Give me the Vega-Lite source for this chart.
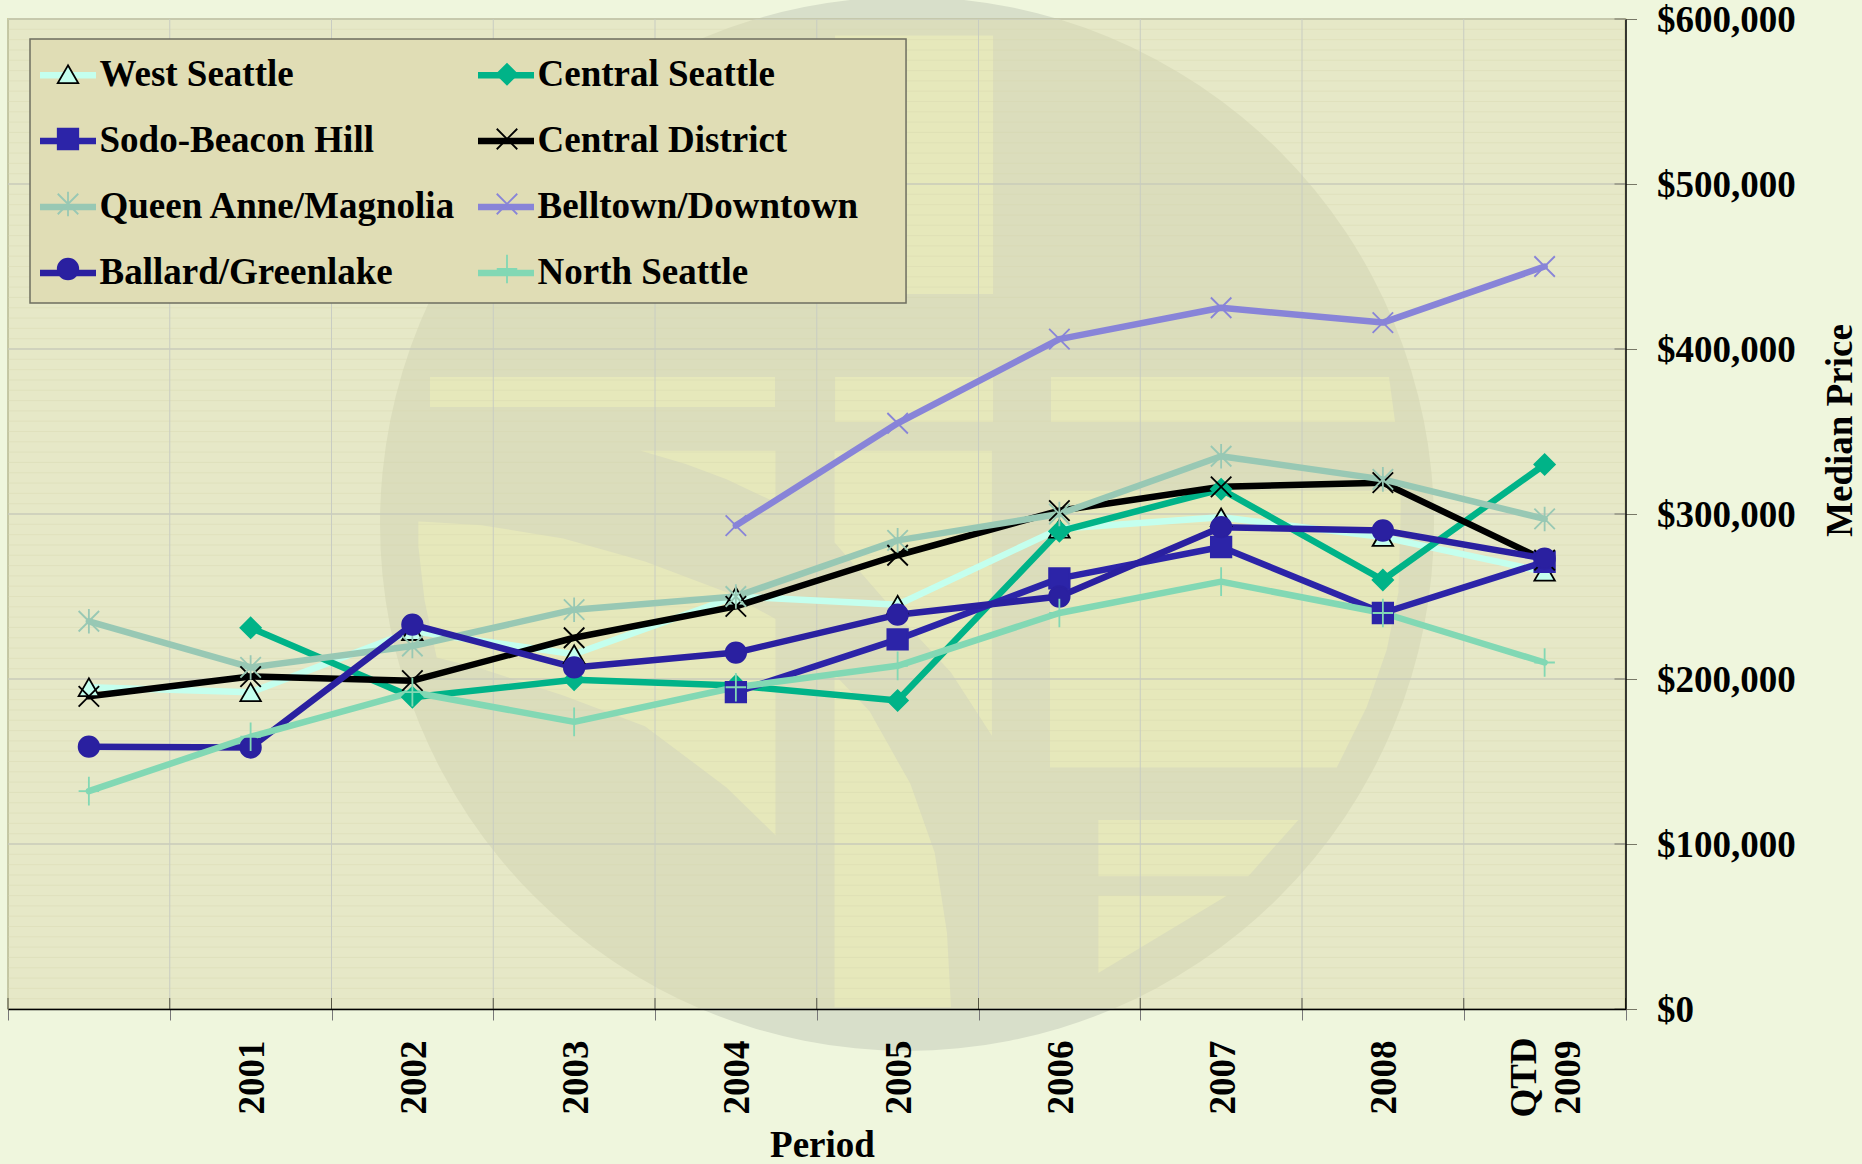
{
"$schema":"https://vega.github.io/schema/vega-lite/v6.json",
"width":1617.5,"height":990,
"autosize":{"type":"none"},
"padding":{"left":8,"top":19,"right":236.5,"bottom":155},
"background":"#EFF6DD",
"view":{"stroke":null},
"config":{"font":"Liberation Serif"},
"datasets":{
"prices":[
{"period":"2000","area":"West Seattle","price":195000},{"period":"2001","area":"West Seattle","price":192000},{"period":"2002","area":"West Seattle","price":229000},{"period":"2003","area":"West Seattle","price":215000},{"period":"2004","area":"West Seattle","price":250000},{"period":"2005","area":"West Seattle","price":245000},{"period":"2006","area":"West Seattle","price":291000},{"period":"2007","area":"West Seattle","price":298000},{"period":"2008","area":"West Seattle","price":286000},{"period":"QTD 2009","area":"West Seattle","price":265000},
{"period":"2001","area":"Central Seattle","price":231000},{"period":"2002","area":"Central Seattle","price":189000},{"period":"2003","area":"Central Seattle","price":199500},{"period":"2004","area":"Central Seattle","price":196000},{"period":"2005","area":"Central Seattle","price":187000},{"period":"2006","area":"Central Seattle","price":289500},{"period":"2007","area":"Central Seattle","price":315000},{"period":"2008","area":"Central Seattle","price":260000},{"period":"QTD 2009","area":"Central Seattle","price":330000},
{"period":"2004","area":"Sodo-Beacon Hill","price":192000},{"period":"2005","area":"Sodo-Beacon Hill","price":224000},{"period":"2006","area":"Sodo-Beacon Hill","price":261000},{"period":"2007","area":"Sodo-Beacon Hill","price":280000},{"period":"2008","area":"Sodo-Beacon Hill","price":240000},{"period":"QTD 2009","area":"Sodo-Beacon Hill","price":271000},
{"period":"2000","area":"Central District","price":189500},{"period":"2001","area":"Central District","price":201500},{"period":"2002","area":"Central District","price":199000},{"period":"2003","area":"Central District","price":225000},{"period":"2004","area":"Central District","price":244000},{"period":"2005","area":"Central District","price":275000},{"period":"2006","area":"Central District","price":302000},{"period":"2007","area":"Central District","price":316500},{"period":"2008","area":"Central District","price":319000},{"period":"QTD 2009","area":"Central District","price":272000},
{"period":"2000","area":"Queen Anne/Magnolia","price":235000},{"period":"2001","area":"Queen Anne/Magnolia","price":207000},{"period":"2002","area":"Queen Anne/Magnolia","price":220000},{"period":"2003","area":"Queen Anne/Magnolia","price":242000},{"period":"2004","area":"Queen Anne/Magnolia","price":250000},{"period":"2005","area":"Queen Anne/Magnolia","price":284000},{"period":"2006","area":"Queen Anne/Magnolia","price":300000},{"period":"2007","area":"Queen Anne/Magnolia","price":335000},{"period":"2008","area":"Queen Anne/Magnolia","price":321000},{"period":"QTD 2009","area":"Queen Anne/Magnolia","price":297000},
{"period":"2004","area":"Belltown/Downtown","price":293000},{"period":"2005","area":"Belltown/Downtown","price":355000},{"period":"2006","area":"Belltown/Downtown","price":406000},{"period":"2007","area":"Belltown/Downtown","price":425000},{"period":"2008","area":"Belltown/Downtown","price":416000},{"period":"QTD 2009","area":"Belltown/Downtown","price":450000},
{"period":"2000","area":"Ballard/Greenlake","price":159000},{"period":"2001","area":"Ballard/Greenlake","price":158500},{"period":"2002","area":"Ballard/Greenlake","price":233000},{"period":"2003","area":"Ballard/Greenlake","price":207000},{"period":"2004","area":"Ballard/Greenlake","price":216000},{"period":"2005","area":"Ballard/Greenlake","price":239000},{"period":"2006","area":"Ballard/Greenlake","price":250000},{"period":"2007","area":"Ballard/Greenlake","price":292000},{"period":"2008","area":"Ballard/Greenlake","price":290000},{"period":"QTD 2009","area":"Ballard/Greenlake","price":273000},
{"period":"2000","area":"North Seattle","price":132000},{"period":"2001","area":"North Seattle","price":165000},{"period":"2002","area":"North Seattle","price":192000},{"period":"2003","area":"North Seattle","price":174000},{"period":"2004","area":"North Seattle","price":195000},{"period":"2005","area":"North Seattle","price":208000},{"period":"2006","area":"North Seattle","price":240000},{"period":"2007","area":"North Seattle","price":259000},{"period":"2008","area":"North Seattle","price":240000},{"period":"QTD 2009","area":"North Seattle","price":210000}
],
"logo":[{"wx":5.558,"wy":294000}],
"one":[{"k":1}],
"panels":[
{"p":"A","wx":5.113,"t":590000,"b":433300},{"p":"A","wx":6.09,"t":590000,"b":433300},
{"p":"B","wx":2.609,"t":383000,"b":364800},{"p":"B","wx":4.742,"t":383000,"b":364800},
{"p":"C","wx":5.113,"t":383000,"b":355800},{"p":"C","wx":6.09,"t":383000,"b":355800},
{"p":"D","wx":6.448,"t":383000,"b":355800},{"p":"D","wx":8.538,"t":383000,"b":355800},{"p":"D","wx":8.575,"t":356000,"b":355800},
{"p":"F","wx":2.537,"t":295500,"b":280400},{"p":"F","wx":2.575,"t":295300,"b":247900},{"p":"F","wx":2.65,"t":294800,"b":213100},{"p":"F","wx":2.928,"t":293200,"b":206200},{"p":"F","wx":3.433,"t":285100,"b":190000},{"p":"F","wx":3.938,"t":271200,"b":171400},{"p":"F","wx":4.442,"t":252600,"b":134300},{"p":"F","wx":4.745,"t":236400,"b":105300},
{"p":"H","wx":3.912,"t":338400,"b":338400},{"p":"H","wx":4.19,"t":338400,"b":330300},{"p":"H","wx":4.442,"t":338400,"b":321000},{"p":"H","wx":4.745,"t":338400,"b":307100},
{"p":"I","wx":5.11,"t":338400,"b":282700},{"p":"I","wx":5.502,"t":338400,"b":238700},{"p":"I","wx":5.83,"t":338400,"b":203900},{"p":"I","wx":6.083,"t":338400,"b":165600},
{"p":"J","wx":5.11,"t":202700,"b":1000},{"p":"J","wx":5.325,"t":180700,"b":1000},{"p":"J","wx":5.578,"t":136600,"b":1000},{"p":"J","wx":5.729,"t":94900,"b":1000},{"p":"J","wx":5.805,"t":46200,"b":1000},{"p":"J","wx":5.83,"t":1000,"b":1000},
{"p":"K","wx":6.442,"t":314100,"b":146400},{"p":"K","wx":8.215,"t":314100,"b":146400},{"p":"K","wx":8.4,"t":314100,"b":183000},{"p":"K","wx":8.524,"t":314100,"b":217800},{"p":"K","wx":8.596,"t":314100,"b":252600},{"p":"K","wx":8.61,"t":314100,"b":300000},
{"p":"L","wx":6.741,"t":114500,"b":80500},{"p":"L","wx":7.668,"t":114500,"b":80500},{"p":"L","wx":7.977,"t":114500,"b":114500},
{"p":"M","wx":6.741,"t":68700,"b":21800},{"p":"M","wx":7.535,"t":68700,"b":68700}
],
"gridX":[{"wx":0},{"wx":1},{"wx":2},{"wx":3},{"wx":4},{"wx":5},{"wx":6},{"wx":7},{"wx":8},{"wx":9},{"wx":10}],
"gridY":[{"gy":0},{"gy":100000},{"gy":200000},{"gy":300000},{"gy":400000},{"gy":500000},{"gy":600000}],
"minorY":[{"gy":6250},{"gy":12500},{"gy":18750},{"gy":25000},{"gy":31250},{"gy":37500},{"gy":43750},{"gy":50000},{"gy":56250},{"gy":62500},{"gy":68750},{"gy":75000},{"gy":81250},{"gy":87500},{"gy":93750},{"gy":106250},{"gy":112500},{"gy":118750},{"gy":125000},{"gy":131250},{"gy":137500},{"gy":143750},{"gy":150000},{"gy":156250},{"gy":162500},{"gy":168750},{"gy":175000},{"gy":181250},{"gy":187500},{"gy":193750},{"gy":206250},{"gy":212500},{"gy":218750},{"gy":225000},{"gy":231250},{"gy":237500},{"gy":243750},{"gy":250000},{"gy":256250},{"gy":262500},{"gy":268750},{"gy":275000},{"gy":281250},{"gy":287500},{"gy":293750},{"gy":306250},{"gy":312500},{"gy":318750},{"gy":325000},{"gy":331250},{"gy":337500},{"gy":343750},{"gy":350000},{"gy":356250},{"gy":362500},{"gy":368750},{"gy":375000},{"gy":381250},{"gy":387500},{"gy":393750},{"gy":406250},{"gy":412500},{"gy":418750},{"gy":425000},{"gy":431250},{"gy":437500},{"gy":443750},{"gy":450000},{"gy":456250},{"gy":462500},{"gy":468750},{"gy":475000},{"gy":481250},{"gy":487500},{"gy":493750},{"gy":506250},{"gy":512500},{"gy":518750},{"gy":525000},{"gy":531250},{"gy":537500},{"gy":543750},{"gy":550000},{"gy":556250},{"gy":562500},{"gy":568750},{"gy":575000},{"gy":581250},{"gy":587500},{"gy":593750}]
},
"resolve":{"scale":{"x":"independent","stroke":"independent","shape":"independent","fill":"independent"},"axis":{"y":"independent"}},
"layer":[
{"data":{"name":"logo"},"mark":{"type":"point","shape":"circle","size":1110900,"filled":true,"color":"#D8DFCA","opacity":1,"clip":false},
 "encoding":{"x":{"field":"wx","type":"quantitative","scale":{"domain":[0,10]},"axis":null},"y":{"field":"wy","type":"quantitative","scale":{"domain":[0,600000],"nice":false},"axis":null}}},
{"data":{"name":"one"},"mark":{"type":"rect","fill":"#E6E8C7","stroke":"#B4B46C","strokeWidth":1.5},
 "encoding":{"x":{"datum":0,"type":"quantitative","scale":{"domain":[0,10]},"axis":null},"x2":{"datum":10},"y":{"datum":0,"type":"quantitative","axis":null},"y2":{"datum":600000}}},
{"data":{"name":"logo"},"mark":{"type":"point","shape":"circle","size":1110900,"filled":true,"color":"#DBDDBC","opacity":1,"clip":true},
 "encoding":{"x":{"field":"wx","type":"quantitative","scale":{"domain":[0,10]},"axis":null},"y":{"field":"wy","type":"quantitative","axis":null}}},
{"data":{"name":"panels"},"mark":{"type":"area","color":"#E6E8BB","clip":true},
 "encoding":{"x":{"field":"wx","type":"quantitative","scale":{"domain":[0,10]},"axis":null},"y":{"field":"t","type":"quantitative","axis":null},"y2":{"field":"b"},"detail":{"field":"p"}}},
{"data":{"name":"minorY"},"mark":{"type":"rule","color":"#D6D8AE","strokeWidth":1,"opacity":0.4},
 "encoding":{"y":{"field":"gy","type":"quantitative","axis":null}}},
{"data":{"name":"gridY"},"mark":{"type":"rule","color":"#C8CBBA","strokeWidth":1.5},
 "encoding":{"y":{"field":"gy","type":"quantitative","axis":null}}},
{"data":{"name":"gridX"},"mark":{"type":"rule","color":"#C8CCC2","strokeWidth":1},
 "encoding":{"x":{"field":"wx","type":"quantitative","scale":{"domain":[0,10]},"axis":null}}},
{"data":{"name":"gridX"},"mark":{"type":"rule","color":"#555544","strokeWidth":1},
 "encoding":{"x":{"field":"wx","type":"quantitative","scale":{"domain":[0,10]},"axis":null},"y":{"datum":0,"type":"quantitative","axis":null},"y2":{"datum":6667}}},
{"data":{"name":"gridY"},"mark":{"type":"rule","color":"#777766","strokeWidth":1},
 "encoding":{"x":{"datum":9.932,"type":"quantitative","scale":{"domain":[0,10]},"axis":null},"x2":{"datum":10},"y":{"field":"gy","type":"quantitative","axis":null}}},
{"data":{"name":"one"},"mark":{"type":"rect","fill":"#E0DDB5","stroke":"#6E6E60","strokeWidth":1.5},
 "encoding":{"x":{"datum":0.136,"type":"quantitative","scale":{"domain":[0,10]},"axis":null},"x2":{"datum":5.552},"y":{"datum":427900,"type":"quantitative","axis":null},"y2":{"datum":587900}}},
{"data":{"name":"prices"},"mark":{"type":"line","strokeWidth":6.5,"strokeCap":"round","strokeJoin":"round"},
 "encoding":{
  "x":{"field":"period","type":"ordinal","scale":{"type":"band","paddingInner":0,"paddingOuter":0,"domain":["2000","2001","2002","2003","2004","2005","2006","2007","2008","QTD 2009"]},
   "axis":{"title":"Period","titleFont":"Liberation Serif","titleFontSize":37,"titleFontWeight":"bold","titleColor":"#000","titleX":814,"titleY":136,"titleBaseline":"middle",
    "labelExpr":"datum.value=='2000' ? '' : (datum.value=='QTD 2009' ? ['QTD','2009'] : datum.value)",
    "labelAngle":270,"labelAlign":"center","labelBaseline":"middle","labelPadding":57,"labelOffset":{"condition":{"test":"datum.value=='QTD 2009'","value":-20},"value":2},"labelFont":"Liberation Serif","labelFontSize":37,"labelFontWeight":"bold","labelColor":"#000","labelLineHeight":44,"labelOverlap":false,"labelBound":false,"labelFlush":false,
    "tickBand":"extent","tickSize":11,"tickColor":"#777777","tickWidth":1,"domainColor":"#000000","domainWidth":1.5,"grid":false,"zindex":1}},
  "y":{"field":"price","type":"quantitative",
   "axis":{"orient":"right","title":"Median Price","titleFont":"Liberation Serif","titleFontSize":37,"titleFontWeight":"bold","titleColor":"#000","titleAngle":270,"titleX":215,"titleY":411,"titleBaseline":"middle","titleAlign":"center",
    "values":[0,100000,200000,300000,400000,500000,600000],"format":"$,.0f","labelFont":"Liberation Serif","labelFontSize":37,"labelFontWeight":"bold","labelColor":"#000","labelPadding":20,"labelOffset":1,"labelOverlap":false,"labelBound":false,"labelFlush":false,
    "tickSize":11,"tickColor":"#777766","tickWidth":1,"domainColor":"#000000","domainWidth":1.5,"grid":false,"zindex":1}},
  "stroke":{"field":"area","type":"nominal","scale":{"domain":["West Seattle","Central Seattle","Sodo-Beacon Hill","Central District","Queen Anne/Magnolia","Belltown/Downtown","Ballard/Greenlake","North Seattle"],"range":["#C4FFEE","#00B388","#2C24A8","#000000","#98C8B4","#8884D8","#2A20A0","#82D8B4"]},
   "legend":{"orient":"none","direction":"horizontal","legendX":28.5,"legendY":24.5,"title":null,"columns":2,"padding":0,"symbolType":"stroke","symbolSize":3136,"symbolStrokeWidth":6.5,"labelOffset":0,"columnPadding":8,"rowPadding":16,"labelFont":"Liberation Serif","labelFontSize":37,"labelFontWeight":"bold","labelColor":"#000","labelLimit":500,"zindex":1}}
 }},
{"data":{"name":"prices"},"mark":{"type":"point","size":420,"strokeWidth":1.8,"opacity":1},
 "encoding":{
  "x":{"field":"period","type":"ordinal","scale":{"type":"band","paddingInner":0,"paddingOuter":0,"domain":["2000","2001","2002","2003","2004","2005","2006","2007","2008","QTD 2009"]},"axis":null},
  "y":{"field":"price","type":"quantitative","axis":null},
  "shape":{"field":"area","type":"nominal","scale":{"domain":["West Seattle","Central Seattle","Sodo-Beacon Hill","Central District","Queen Anne/Magnolia","Belltown/Downtown","Ballard/Greenlake","North Seattle"],"range":["triangle-up","diamond","square","M-1,-1L1,1M-1,1L1,-1","M-1,-1L1,1M-1,1L1,-1M0,-1.2L0,1.2","M-1,-1L1,1M-1,1L1,-1","circle","M-1,0L1,0M0,-1.4L0,1.4"]},
   "legend":{"orient":"none","direction":"horizontal","legendX":41.5,"legendY":36.5,"title":null,"columns":2,"padding":0,"symbolSize":420,"symbolStrokeWidth":1.8,"labelExpr":"''","labelOffset":0,"columnPadding":402,"rowPadding":27,"labelFont":"Liberation Serif","labelFontSize":37,"labelFontWeight":"bold","labelLimit":500,"zindex":2}},
  "fill":{"field":"area","type":"nominal","scale":{"domain":["West Seattle","Central Seattle","Sodo-Beacon Hill","Central District","Queen Anne/Magnolia","Belltown/Downtown","Ballard/Greenlake","North Seattle"],"range":["#C4FFEE","#00B388","#2C24A8","transparent","transparent","transparent","#2A20A0","transparent"]}},
  "stroke":{"field":"area","type":"nominal","scale":{"domain":["West Seattle","Central Seattle","Sodo-Beacon Hill","Central District","Queen Anne/Magnolia","Belltown/Downtown","Ballard/Greenlake","North Seattle"],"range":["#000000","#00B388","#2C24A8","#000000","#98C8B4","#8884D8","#2A20A0","#82D8B4"]}}
 }}
]
}
